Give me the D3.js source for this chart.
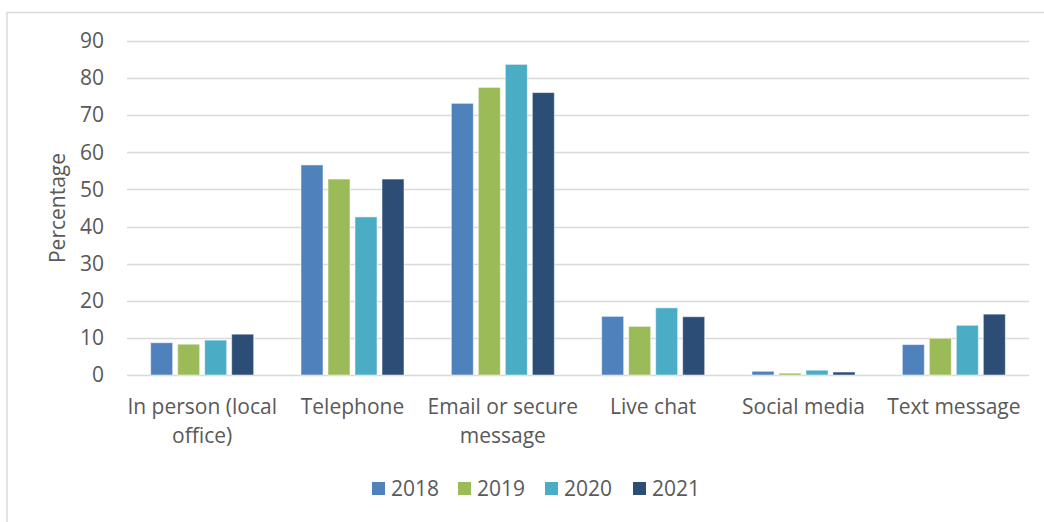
<!DOCTYPE html>
<html>
<head>
<meta charset="utf-8">
<script src="https://cdn.jsdelivr.net/npm/d3@7"></script>
<style>
  html, body { margin: 0; padding: 0; background: #fff; }
  svg { display: block; font-family: "Open Sans", "Noto Sans", sans-serif; }
</style>
</head>
<body>
<svg id="chart" width="1044" height="522"></svg>
<script>
const categories = [["In person (local", "office)"], ["Telephone"], ["Email or secure", "message"], ["Live chat"], ["Social media"], ["Text message"]];
const years = ["2018", "2019", "2020", "2021"];
const v2018 = [8.7, 56.6, 73.2, 15.8, 1.0, 8.2];
const v2019 = [8.3, 52.8, 77.5, 13.1, 0.5, 9.9];
const v2020 = [9.4, 42.6, 83.7, 18.1, 1.3, 13.4];
const v2021 = [11.0, 52.8, 76.1, 15.7, 0.8, 16.4];
const yTicks = [0, 10, 20, 30, 40, 50, 60, 70, 80, 90];
const colors = ["#4F81BD", "#9BBB59", "#4BACC6", "#2C4D75"];

const series = [v2018, v2019, v2020, v2021];
const svg = d3.select("#chart");
const FS = 21;

// outer frame
svg.append("rect").attr("x", 7).attr("y", 12.5).attr("width", 1100).attr("height", 600)
  .attr("fill", "none").attr("stroke", "#D9D9D9").attr("stroke-width", 1.5);

const plot = { left: 127, right: 1029, top: 41, bottom: 375 };
const y = d3.scaleLinear().domain([0, 90]).range([plot.bottom, plot.top]);
const x0 = d3.scaleBand().domain(d3.range(categories.length)).range([plot.left, plot.right]).paddingInner(0).paddingOuter(0);
const groupW = 108;
const x1 = d3.scaleBand().domain(d3.range(years.length)).range([0, groupW]).padding(0);

// gridlines
svg.append("g").selectAll("line").data(yTicks).join("line")
  .attr("x1", plot.left).attr("x2", plot.right)
  .attr("y1", d => Math.round(y(d)) + 0.5).attr("y2", d => Math.round(y(d)) + 0.5)
  .attr("stroke", "#D9D9D9").attr("stroke-width", 1.5);

// y axis labels
const yAxis = d3.axisLeft(y).tickValues(yTicks).tickSize(0).tickPadding(0);
const ya = svg.append("g").attr("transform", `translate(104,0)`).call(yAxis);
ya.select(".domain").remove();
ya.selectAll("text").attr("font-size", FS).attr("fill", "#595959").attr("font-family", "Open Sans");

// bars
const groups = svg.append("g").selectAll("g").data(categories).join("g")
  .attr("transform", (d, i) => `translate(${x0(i) + (x0.bandwidth() - groupW) / 2},0)`);
groups.selectAll("rect").data((d, i) => series.map((s, k) => ({ k, v: s[i] }))).join("rect")
  .attr("x", d => x1(d.k) + 2.5)
  .attr("width", x1.bandwidth() - 5)
  .attr("y", d => y(d.v))
  .attr("height", d => y(0) - y(d.v))
  .attr("fill", d => colors[d.k])
  .attr("stroke", "#ffffff").attr("stroke-opacity", 0.5).attr("stroke-width", 1);

// category labels
const xl = svg.append("g");
categories.forEach((lines, i) => {
  const t = xl.append("text").attr("x", x0(i) + x0.bandwidth() / 2).attr("y", 414)
    .attr("text-anchor", "middle").attr("font-size", FS).attr("fill", "#595959");
  lines.forEach((ln, j) => t.append("tspan").attr("x", x0(i) + x0.bandwidth() / 2).attr("dy", j === 0 ? 0 : 29).text(ln));
});

// y title
svg.append("text").attr("transform", "translate(65,208) rotate(-90)")
  .attr("text-anchor", "middle").attr("font-size", FS).attr("fill", "#595959").text("Percentage");

// legend
const legendX = [372, 458, 545, 633];
const lg = svg.append("g").selectAll("g").data(years).join("g")
  .attr("transform", (d, i) => `translate(${legendX[i]},482)`);
lg.append("rect").attr("width", 13).attr("height", 13).attr("fill", (d, i) => colors[i]);
lg.append("text").attr("x", 19).attr("y", 14).attr("font-size", FS).attr("fill", "#595959").text(d => d);
</script>
</body>
</html>
